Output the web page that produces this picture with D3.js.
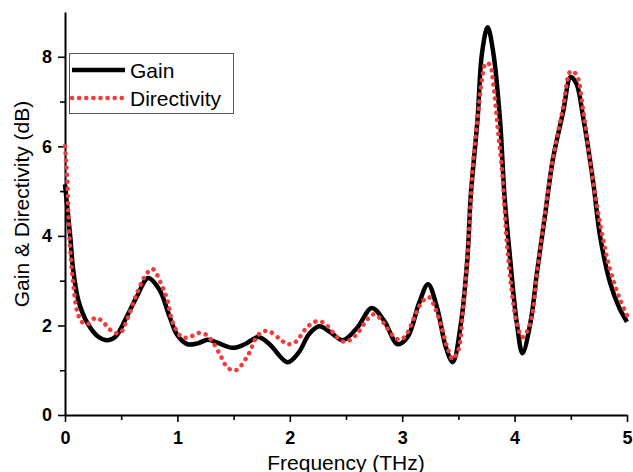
<!DOCTYPE html>
<html>
<head>
<meta charset="utf-8">
<style>
    body { margin: 0; background: #fff; }
    svg { font-family: Arial, 'Liberation Sans', sans-serif; }
    .axis .domain { stroke: #000; stroke-width: 2; }
    .axis .tick line { stroke: #000; stroke-width: 1.6; }
    .axis .tick text { font-size: 18px; font-weight: bold; fill: #000; font-family: Arial, 'Liberation Sans', sans-serif; }
    .axis-label { font-size: 21px; fill: #000; }
    .legend-text { font-size: 21px; fill: #000; }
</style>
</head>
<body>
<svg width="633" height="472"></svg>
<script src="https://cdnjs.cloudflare.com/ajax/libs/d3/7.8.5/d3.min.js"></script>
<script>
// gain (black solid)
let gainFreq = [0, 0.03, 0.05, 0.07, 0.12, 0.2, 0.29, 0.38, 0.45, 0.55, 0.64, 0.74, 0.84, 0.93, 1.0,
    1.09, 1.18, 1.27, 1.35, 1.49, 1.6, 1.72, 1.82, 1.98, 2.08, 2.17, 2.26, 2.36, 2.47, 2.6, 2.73,
    2.84, 2.96, 3.05, 3.15, 3.23, 3.31, 3.39, 3.45, 3.52, 3.58, 3.61, 3.67, 3.71, 3.76, 3.81, 3.87,
    3.91, 3.96, 4.02, 4.07, 4.14, 4.2, 4.27, 4.34, 4.43, 4.5, 4.55, 4.61, 4.7, 4.76, 4.85, 4.93, 5.0]
let gainVals = [5.15, 4.4, 3.9, 3.3, 2.55, 2.05, 1.76, 1.67, 1.75, 2.2, 2.65, 3.06, 2.8, 2.2, 1.78,
    1.58, 1.6, 1.68, 1.62, 1.5, 1.58, 1.74, 1.58, 1.18, 1.4, 1.8, 1.98, 1.85, 1.67, 1.95, 2.39,
    2.1, 1.58, 1.75, 2.5, 2.92, 2.4, 1.5, 1.18, 2.0, 3.5, 4.9, 6.6, 8.08, 8.66, 8.1, 6.6,
    4.9, 3.5, 2.05, 1.38, 2.05, 3.2, 4.45, 5.7, 6.75, 7.55, 7.4, 6.65, 5.18, 4.0, 2.95, 2.4, 2.08]

// directivity (red dotted)
let dirFreq = [0, 0.02, 0.03, 0.045, 0.07, 0.11, 0.15, 0.2, 0.27, 0.33, 0.38, 0.43, 0.49, 0.55, 0.64,
    0.73, 0.78, 0.86, 0.91, 0.96, 1.04, 1.11, 1.18, 1.25, 1.31, 1.38, 1.45, 1.52, 1.62, 1.72, 1.8,
    1.91, 1.98, 2.05, 2.14, 2.2, 2.26, 2.33, 2.42, 2.49, 2.55, 2.61, 2.69, 2.75, 2.81, 2.86, 2.95,
    3.0, 3.05, 3.11, 3.18, 3.24, 3.29, 3.34, 3.4, 3.45, 3.5, 3.54, 3.58, 3.63, 3.67, 3.71, 3.745,
    3.78, 3.81, 3.85, 3.89, 3.94, 4.02, 4.07, 4.14, 4.2, 4.23, 4.27, 4.34, 4.43, 4.5, 4.55, 4.61,
    4.67, 4.76, 4.85, 4.94, 5.0]
let dirVals = [6.0, 5.25, 4.5, 3.75, 3.0, 2.3, 2.08, 2.03, 2.17, 2.1, 1.96, 1.85, 1.83, 2.12, 2.72,
    3.17, 3.26, 2.9, 2.57, 2.05, 1.74, 1.74, 1.83, 1.8, 1.65, 1.34, 1.05, 1.0, 1.3, 1.79, 1.88,
    1.7, 1.58, 1.63, 1.92, 2.05, 2.1, 2.0, 1.74, 1.63, 1.7, 1.85, 2.14, 2.25, 2.14, 1.96, 1.7,
    1.7, 1.85, 2.19, 2.54, 2.63, 2.4, 2.05, 1.52, 1.25, 1.45, 2.34, 3.5, 5.6, 6.6, 7.5, 7.86,
    7.82, 7.4, 6.4, 5.4, 3.6, 2.05, 1.74, 2.05, 3.2, 3.75, 4.5, 5.7, 6.85, 7.68, 7.6, 6.8,
    5.7, 4.28, 3.24, 2.57, 2.23]

let xTicks = [0, 1, 2, 3, 4, 5]
let xMinor = [0.5, 1.5, 2.5, 3.5, 4.5]
let yTicks = [0, 2, 4, 6, 8]
let yMinor = [1, 3, 5, 7]

let svg = d3.select("svg")

let x = d3.scaleLinear().domain([0, 5]).range([65, 627])
let y = d3.scaleLinear().domain([0, 9]).range([415, 12])

// minor ticks first
svg.append("g")
    .attr("class", "axis")
    .attr("transform", "translate(0,415)")
    .call(d3.axisBottom(x).tickValues(xMinor).tickSize(5).tickFormat(""))
    .call(g => g.select(".domain").remove())

svg.append("g")
    .attr("class", "axis")
    .attr("transform", "translate(65,0)")
    .call(d3.axisLeft(y).tickValues(yMinor).tickSize(5).tickFormat(""))
    .call(g => g.select(".domain").remove())

svg.append("g")
    .attr("class", "axis")
    .attr("transform", "translate(0,415)")
    .call(d3.axisBottom(x).tickValues(xTicks).tickSize(7).tickSizeOuter(0).tickPadding(9).tickFormat(d3.format("d")))

svg.append("g")
    .attr("class", "axis")
    .attr("transform", "translate(65,0)")
    .call(d3.axisLeft(y).tickValues(yTicks).tickSize(7).tickSizeOuter(0).tickPadding(6).tickFormat(d3.format("d")))

let line = d3.line()
    .x(d => x(d[0]))
    .y(d => y(d[1]))
    .curve(d3.curveCatmullRom.alpha(0.5))

svg.append("path")
    .datum(gainFreq.map((f, i) => [f, gainVals[i]]))
    .attr("fill", "none")
    .attr("stroke", "#000")
    .attr("stroke-width", 4.5)
    .attr("stroke-linejoin", "round")
    .attr("d", line)

svg.append("path")
    .datum(dirFreq.map((f, i) => [f, dirVals[i]]))
    .attr("fill", "none")
    .attr("stroke", "#f23c3c")
    .attr("stroke-width", 4.5)
    .attr("stroke-linecap", "round")
    .attr("stroke-dasharray", "0.1 7")
    .attr("d", line)

// legend
let legend = svg.append("g")
legend.append("rect")
    .attr("x", 69.5).attr("y", 53.5)
    .attr("width", 164).attr("height", 60)
    .attr("fill", "#fff")
    .attr("stroke", "#555")
    .attr("stroke-width", 1)
legend.append("line")
    .attr("x1", 72).attr("x2", 125).attr("y1", 70).attr("y2", 70)
    .attr("stroke", "#000").attr("stroke-width", 4.5)
legend.append("line")
    .attr("x1", 72).attr("x2", 125).attr("y1", 98).attr("y2", 98)
    .attr("stroke", "#f23c3c").attr("stroke-width", 4.5)
    .attr("stroke-linecap", "round").attr("stroke-dasharray", "0.1 7")
legend.append("text").attr("class", "legend-text").attr("x", 130).attr("y", 78).text("Gain")
legend.append("text").attr("class", "legend-text").attr("x", 130).attr("y", 106).text("Directivity")

// axis labels
svg.append("text")
    .attr("class", "axis-label")
    .attr("x", 346).attr("y", 470)
    .attr("text-anchor", "middle")
    .text("Frequency (THz)")

svg.append("text")
    .attr("class", "axis-label")
    .attr("transform", "translate(29,204) rotate(-90)")
    .attr("text-anchor", "middle")
    .text("Gain & Directivity (dB)")
</script>
</body>
</html>
